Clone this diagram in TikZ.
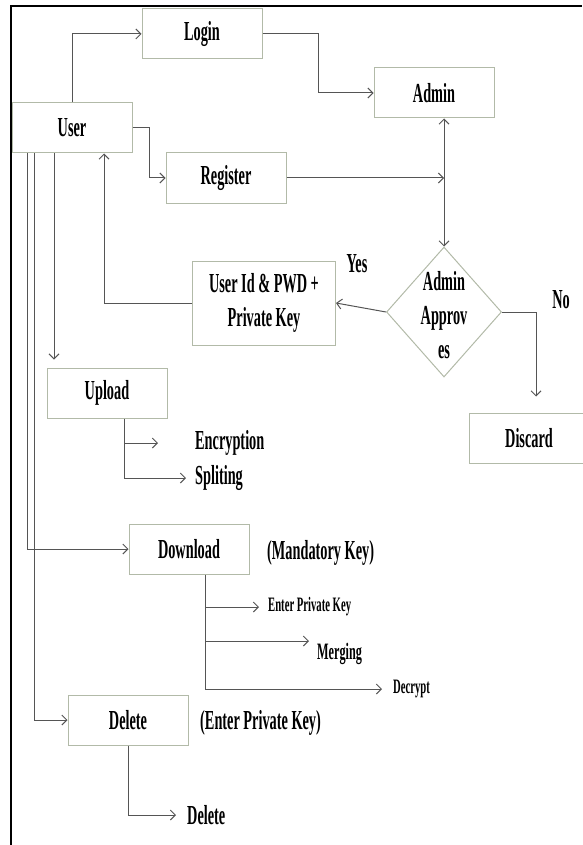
\documentclass[tikz,border=0pt]{standalone}
\usepackage{fontspec}
\setmainfont{Liberation Serif}[FakeStretch=0.52]
\usetikzlibrary{arrows.meta,shapes.geometric}
\definecolor{boxline}{RGB}{178,186,168}
\definecolor{wire}{RGB}{85,85,85}

\begin{document}
\begin{tikzpicture}[
  x = 1pt, y = -1pt,
  box/.style = {
    draw = boxline,
    line width = 1pt,
    minimum width = 120pt,
    minimum height = 50pt,
    inner sep = 0pt,
    align = center,
    font = \fontsize{27.5}{34}\selectfont\bfseries
  },
  note/.style = {
    anchor = west,
    inner sep = 1pt,
    font = \fontsize{27.5}{30}\selectfont\bfseries
  },
  smallnote/.style = {
    note,
    font = \fontsize{20.5}{22}\selectfont\bfseries
  },
  wire/.style = {
    draw = wire,
    line width = 1pt,
    -{Straight Barb[length = 5pt, width = 10pt]}
  }
]
  \useasboundingbox (0, 0) rectangle (582, 845);
  \draw[line width = 2pt] (11, 845) -- (11, 6) -- (582, 6);

  % boxes
  \node[box] (login) at (202, 34) {Login};
  \node[box] (admin) at (434, 93) {Admin};
  \node[box] (user) at (72, 128) {User};
  \node[box] (register) at (226, 178) {Register};
  \node[box, minimum width = 143pt, minimum height = 84pt] (cred) at (264, 303) {User Id \& PWD +\\Private Key};
  \node[draw = boxline, line width = 1pt, shape = diamond, minimum width = 115pt,
    minimum height = 130pt, inner sep = 0pt] (approve) at (444, 312) {};
  \node[box, draw = none, minimum width = 0pt, minimum height = 0pt] (approvetxt) at (444, 315) {Admin\\Approv\\es};
  \node[box] (discard) at (529, 438) {Discard};
  \node[box] (upload) at (107, 393) {Upload};
  \node[box] (download) at (189, 549) {Download};
  \node[box] (delete) at (128, 720) {Delete};

  % texts
  \node[note] (encrypt) at (194, 443) {Encryption};
  \node[note] (split) at (194, 478) {Spliting};
  \node[note] (mandatory) at (266, 553) {(Mandatory Key)};
  \node[smallnote] (enterkey) at (267, 607) {Enter Private Key};
  \node[note, font = \fontsize{23.5}{26}\selectfont\bfseries] (merging) at (316, 654) {Merging};
  \node[smallnote] (decrypt) at (392, 689) {Decrypt};
  \node[note] (delkey) at (199, 723) {(Enter Private Key)};
  \node[note] (deltext) at (186, 815) {Delete};
  \node[note, anchor = center] (yes) at (357, 264) {Yes};
  \node[note, anchor = center] (no) at (561, 300) {No};

  \coordinate (uptrunk) at ([xshift = 17pt]upload.south);
  \coordinate (dltrunk) at ([xshift = 16pt]download.south);
  \coordinate (mergetip) at (309, 641);

  % connectors
  \draw[wire] (user.north) |- (login.west);
  \draw[wire] (login.east) -- ++(56, 0) |- (admin.west);
  \draw[wire] (user.east) -- ++(17, 0) |- (register.west);
  \draw[wire] (register.east) -- (register.east -| approve.north);
  \draw[wire, {Straight Barb[length = 5pt, width = 10pt]}-{Straight Barb[length = 5pt, width = 10pt]}]
    (approve.north |- admin.south) -- (approve.north);
  \draw[wire] (approve.west) -- (cred.east);
  \draw[wire] (cred.west) -| ([xshift = 32pt]user.south);
  \draw[wire] (approve.east) -| ([xshift = 7pt, yshift = 16pt]discard.north);

  \draw[wire] ([xshift = -45pt]user.south) |- (download.west);
  \draw[wire] ([xshift = -38pt]user.south) |- (delete.west);
  \draw[wire] ([xshift = -18pt]user.south) -- ([xshift = -53pt, yshift = 8pt]upload.north);

  \draw[wire] (uptrunk) |- ([xshift = -8pt]split.west);
  \draw[wire] (uptrunk |- encrypt.west) -- ([xshift = -36pt]encrypt.west);

  \draw[wire] (dltrunk) |- ([xshift = -10pt]decrypt.west);
  \draw[wire] (dltrunk |- enterkey.west) -- ([xshift = -8pt]enterkey.west);
  \draw[wire] (dltrunk |- mergetip) -- (mergetip);

  \draw[wire] (delete.south) |- ([xshift = -10pt]deltext.west);
\end{tikzpicture}
\end{document}
